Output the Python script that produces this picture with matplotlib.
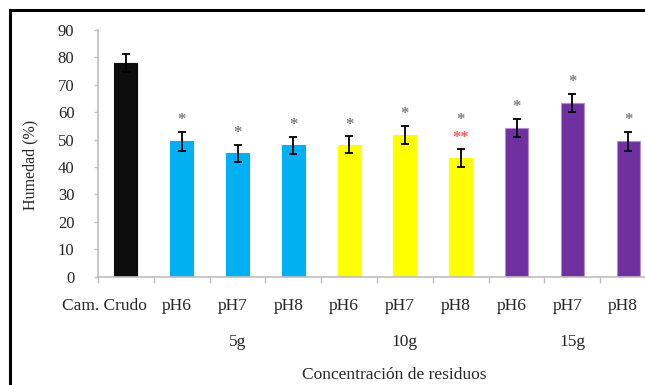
import numpy as np
import matplotlib
matplotlib.use('Agg')
import matplotlib.pyplot as plt

# data
labels = ['Cam. Crudo', 'pH6', 'pH7', 'pH8', 'pH6', 'pH7', 'pH8', 'pH6', 'pH7', 'pH8']
humedad = [78.0, 49.4, 45.0, 47.9, 48.1, 51.7, 43.2, 54.2, 63.5, 49.4]
errores = [3.3, 3.4, 3.2, 3.2, 3.1, 3.4, 3.3, 3.4, 3.3, 3.4]
grupos = ['5g', '10g', '15g']
sig_gris = ['', '*', '*', '*', '*', '*', '*', '*', '*', '*']
sig_rojo = ['', '', '', '', '', '', '**', '', '', '']
colores = ['#0d0d0d', '#00b0f0', '#00b0f0', '#00b0f0',
           '#ffff00', '#ffff00', '#ffff00',
           '#7030a0', '#7030a0', '#7030a0']

plt.rcParams['font.family'] = ['Liberation Serif', 'DejaVu Serif']

fig = plt.figure(figsize=(6.45, 3.85), dpi=100)
ax = fig.add_axes([98 / 645, 1 - 276.7 / 385, 558 / 645, 246.7 / 385])

x = np.arange(len(humedad))
edges = ['#b18fd0' if c == '#7030a0' else c for c in colores]
ax.bar(x, humedad, width=0.41, color=colores, edgecolor=edges, linewidth=0.8, zorder=2)
ax.errorbar(x, humedad, yerr=errores, fmt='none', ecolor='black',
            elinewidth=1.3, capsize=2.8, capthick=1.3, zorder=3)

# significance marks
for i in range(len(humedad)):
    top = humedad[i] + errores[i] + 4.2
    if sig_rojo[i]:
        ax.text(i, top, sig_rojo[i], color='#ff5b5b', ha='center', va='center',
                fontsize=12, fontweight='bold')
        top += 6.4
    if sig_gris[i]:
        ax.text(i, top, sig_gris[i], color='#7f7f7f', ha='center', va='center',
                fontsize=12, fontweight='bold')

ax.set_xlim(-0.5, len(humedad) - 0.5)
ax.set_ylim(0, 90)
ax.set_yticks(np.arange(0, 91, 10))
ax.set_xticks(np.arange(-0.5, len(humedad), 1.0))
ax.set_xticklabels([])
ax.tick_params(axis='y', length=3, width=1, color='#bfbfbf', pad=14,
               labelsize=12, labelcolor='#262626')
ax.tick_params(axis='x', length=4, width=1, color='#bfbfbf')
for s in ['top', 'right']:
    ax.spines[s].set_visible(False)
for s in ['left', 'bottom']:
    ax.spines[s].set_color('#bfbfbf')
    ax.spines[s].set_linewidth(1.2)

# category labels
tr = ax.get_xaxis_transform()
for i, lab in enumerate(labels):
    shift = -0.38 if i == 0 else -0.09
    ax.text(i + shift, -0.119, lab, transform=tr, ha='center', va='center',
            fontsize=12.5, color='#262626')
for j, g in enumerate(grupos):
    ax.text(2 + 3 * j, -0.263, g, transform=tr, ha='center', va='center',
            fontsize=12.5, color='#262626')

fig.text(30 / 645, 1 - 165 / 385, 'Humedad (%)', rotation=90, ha='center',
         va='center', fontsize=11.5, color='#262626')
fig.text(394 / 645, 1 - 375 / 385, 'Concentración de residuos', ha='center',
         va='center', fontsize=12.5, color='#262626')

# outer frame
fig.add_artist(plt.Rectangle((10 / 645, -0.2), 1.5, 1.2 - 10 / 385, fill=False,
                             edgecolor='black', linewidth=2.2,
                             transform=fig.transFigure))

fig.savefig('out.png', dpi=100)
